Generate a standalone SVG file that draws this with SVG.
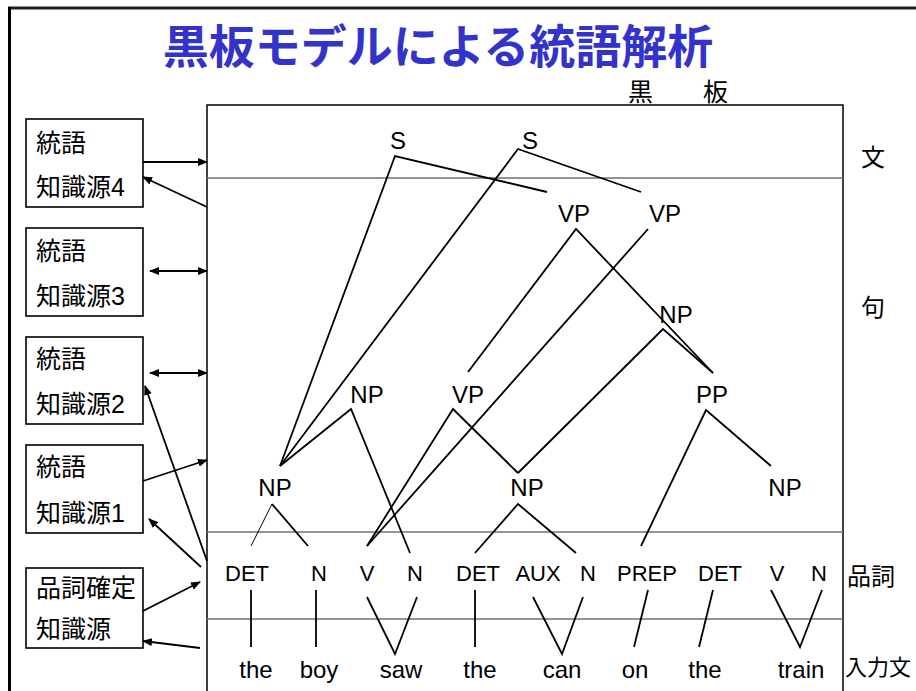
<svg xmlns="http://www.w3.org/2000/svg" width="916" height="691" viewBox="0 0 916 691">
<style>
  .t { font-family: "Liberation Sans", "Noto Sans CJK JP", sans-serif; fill: #000; }
  .lab { font-size: 24px; text-anchor: middle; }
  .pos { font-size: 22px; text-anchor: middle; }
  .word { font-size: 24px; text-anchor: middle; }
  .bx { font-size: 25px; }
  .jp { font-family: "Noto Sans CJK JP", sans-serif; fill: #000; }
  .box { fill: #fff; stroke: #000; stroke-width: 1.6; }
  .ln { fill: none; stroke: #000; stroke-width: 1.8; }
  .thin { fill: none; stroke: #000; stroke-width: 1; }
  .div { stroke: #707070; stroke-width: 1.5; }
  .arr { fill: none; stroke: #000; stroke-width: 1.8; }
</style>
<defs>
  <marker id="ah" markerUnits="userSpaceOnUse" markerWidth="10" markerHeight="8" refX="9" refY="4" orient="auto-start-reverse">
    <path d="M0,0 L10,4 L0,8 Z" fill="#000"/>
  </marker>
</defs>
<rect width="916" height="691" fill="#fff"/>
<g id="frame">
  <line x1="8" y1="8" x2="916" y2="8" stroke="#222" stroke-width="3"/>
  <line x1="9.5" y1="7" x2="9.5" y2="691" stroke="#000" stroke-width="3"/>
</g>
<g id="title">
  <text x="438" y="63" font-family="Noto Sans CJK JP, sans-serif" font-size="46" font-weight="bold" fill="#3333cc" text-anchor="middle">黒板モデルによる統語解析</text>
</g>
<g id="blackboard">
  <rect x="207" y="105" width="636" height="600" fill="none" stroke="#000" stroke-width="1.5"/>
  <line class="div" x1="207" y1="178" x2="843" y2="178"/>
  <line class="div" x1="207" y1="532" x2="843" y2="532"/>
  <line class="div" x1="207" y1="619" x2="843" y2="619"/>
  <text class="jp" x="628" y="101" font-size="25">黒　　板</text>
  <text class="jp" x="861" y="166" font-size="24">文</text>
  <text class="jp" x="861" y="316" font-size="24">句</text>
  <text class="jp" x="847" y="585" font-size="24">品詞</text>
  <text class="jp" x="845" y="675" font-size="22">入力文</text>
</g>
<g id="ks4">
  <rect class="box" x="26" y="119" width="117" height="88"/>
  <text class="t bx" x="36" y="152">統語</text>
  <text class="t bx" x="36" y="196">知識源4</text>
</g>
<g id="ks3">
  <rect class="box" x="26" y="228" width="117" height="88"/>
  <text class="t bx" x="36" y="260">統語</text>
  <text class="t bx" x="36" y="305">知識源3</text>
</g>
<g id="ks2">
  <rect class="box" x="26" y="337" width="117" height="87"/>
  <text class="t bx" x="36" y="368">統語</text>
  <text class="t bx" x="36" y="413">知識源2</text>
</g>
<g id="ks1">
  <rect class="box" x="26" y="445" width="117" height="88"/>
  <text class="t bx" x="36" y="476">統語</text>
  <text class="t bx" x="36" y="522">知識源1</text>
</g>
<g id="ks0">
  <rect class="box" x="26" y="568" width="117" height="80"/>
  <text class="t bx" x="36" y="597">品詞確定</text>
  <text class="t bx" x="36" y="638">知識源</text>
</g>
<g id="tree-labels">
  <text id="s1" class="t lab" x="398" y="149">S</text>
  <text id="s2" class="t lab" x="530" y="149">S</text>
  <text id="vp1" class="t lab" x="574" y="222">VP</text>
  <text id="vp2" class="t lab" x="665" y="222">VP</text>
  <text id="np3" class="t lab" x="676" y="323">NP</text>
  <text id="npa" class="t lab" x="367" y="403">NP</text>
  <text id="vpm" class="t lab" x="468" y="403">VP</text>
  <text id="pp" class="t lab" x="712" y="403">PP</text>
  <text id="npl" class="t lab" x="275" y="496">NP</text>
  <text id="npm" class="t lab" x="527" y="496">NP</text>
  <text id="npr" class="t lab" x="785" y="496">NP</text>
</g>
<g id="pos-labels">
  <text class="t pos" x="247" y="581">DET</text>
  <text class="t pos" x="319" y="581">N</text>
  <text class="t pos" x="367" y="581">V</text>
  <text class="t pos" x="415" y="581">N</text>
  <text class="t pos" x="478" y="581">DET</text>
  <text class="t pos" x="538" y="581">AUX</text>
  <text class="t pos" x="588" y="581">N</text>
  <text class="t pos" x="647" y="581">PREP</text>
  <text class="t pos" x="720" y="581">DET</text>
  <text class="t pos" x="777" y="581">V</text>
  <text class="t pos" x="819" y="581">N</text>
</g>
<g id="words">
  <text class="t word" x="256" y="678">the</text>
  <text class="t word" x="319" y="678">boy</text>
  <text class="t word" x="401" y="678">saw</text>
  <text class="t word" x="480" y="678">the</text>
  <text class="t word" x="562" y="678">can</text>
  <text class="t word" x="635" y="678">on</text>
  <text class="t word" x="705" y="678">the</text>
  <text class="t word" x="801" y="678">train</text>
</g>
<g id="connectors">
  <polyline class="ln" points="547,192 395,156 280,466"/>
  <polyline class="ln" points="641,192 518,149 280,466"/>
  <polyline class="ln" points="468,372 576,229 713,373"/>
  <line class="ln" x1="648" y1="229" x2="367" y2="546"/>
  <polyline class="ln" points="518,473 663,329 713,373"/>
  <polyline class="ln" points="280,466 351,409 410,553"/>
  <polyline class="ln" points="367,546 453,409 518,473"/>
  <polyline class="ln" points="641,546 706,410 771,466"/>
  <line class="thin" x1="251" y1="546" x2="272" y2="504"/>
  <line class="ln" x1="272" y1="504" x2="308" y2="546"/>
  <polyline class="ln" points="475,553 518,504 576,553"/>
  <line class="ln" x1="251" y1="590" x2="251" y2="647"/>
  <line class="ln" x1="316" y1="590" x2="316" y2="647"/>
  <line class="ln" x1="475" y1="590" x2="475" y2="647"/>
  <polyline class="ln" points="367,597 395,654 417,597"/>
  <polyline class="ln" points="533,597 562,654 583,597"/>
  <line class="ln" x1="648" y1="590" x2="634" y2="647"/>
  <line class="ln" x1="713" y1="590" x2="699" y2="647"/>
  <polyline class="ln" points="771,590 800,647 822,590"/>
  <line class="arr" x1="143" y1="162" x2="207" y2="162" marker-end="url(#ah)"/>
  <line class="arr" x1="207" y1="207" x2="143" y2="177" marker-end="url(#ah)"/>
  <line class="arr" x1="150" y1="271" x2="207" y2="271" marker-start="url(#ah)" marker-end="url(#ah)"/>
  <line class="arr" x1="150" y1="373" x2="207" y2="373" marker-start="url(#ah)" marker-end="url(#ah)"/>
  <line class="arr" x1="143" y1="481" x2="207" y2="460" marker-end="url(#ah)"/>
  <line class="arr" x1="201" y1="567" x2="149" y2="519" marker-end="url(#ah)"/>
  <line class="arr" x1="207" y1="561" x2="145" y2="386" marker-end="url(#ah)"/>
  <line class="arr" x1="143" y1="611" x2="200" y2="582" marker-end="url(#ah)"/>
  <line class="arr" x1="200" y1="648" x2="143" y2="641" marker-end="url(#ah)"/>
</g>
</svg>
